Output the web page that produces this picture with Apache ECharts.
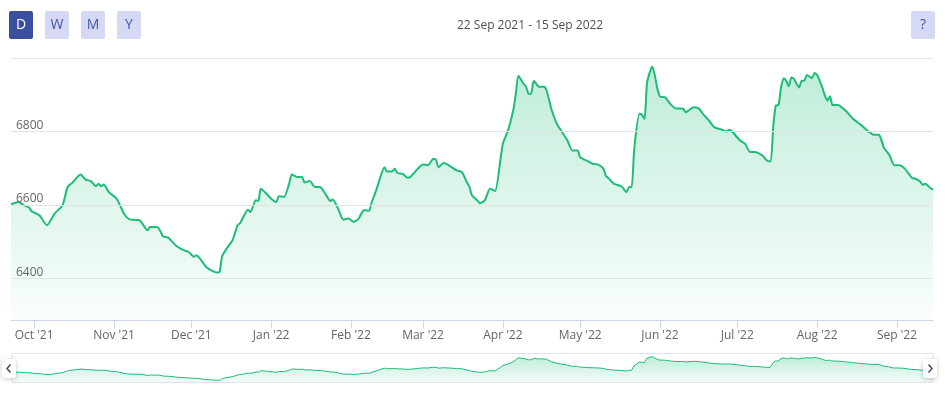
<!DOCTYPE html>
<html>
<head>
<meta charset="utf-8">
<title>Price</title>
<script src="https://cdn.jsdelivr.net/npm/echarts@6/dist/echarts.min.js"></script>
<style>
html, body { margin: 0; padding: 0; background: #fff; }
#container1 { width: 945px; height: 398px; }
</style>
</head>
<body>
<div id="container1"></div>
<script>
// daily closes, 22 Sep 2021 - 15 Sep 2022
var dates = [
  '2021-09-22','2021-09-25','2021-09-27','2021-09-29','2021-09-30',
  '2021-10-03','2021-10-06','2021-10-09','2021-10-12','2021-10-14','2021-10-16','2021-10-19','2021-10-21','2021-10-23','2021-10-25','2021-10-26','2021-10-27','2021-10-28','2021-10-30',
  '2021-11-02','2021-11-05','2021-11-07','2021-11-11','2021-11-14','2021-11-15','2021-11-18','2021-11-20','2021-11-22','2021-11-25','2021-11-28','2021-11-30',
  '2021-12-02','2021-12-03','2021-12-07','2021-12-11','2021-12-12','2021-12-13','2021-12-15','2021-12-17','2021-12-19','2021-12-20','2021-12-23','2021-12-24','2021-12-26','2021-12-27','2021-12-28','2021-12-30',
  '2022-01-01','2022-01-03','2022-01-04','2022-01-06','2022-01-08','2022-01-09','2022-01-11','2022-01-13','2022-01-14','2022-01-16','2022-01-18','2022-01-20','2022-01-22','2022-01-24','2022-01-25','2022-01-27','2022-01-29','2022-01-31',
  '2022-02-02','2022-02-04','2022-02-06','2022-02-08','2022-02-09','2022-02-11','2022-02-12','2022-02-14','2022-02-15','2022-02-17','2022-02-18','2022-02-19','2022-02-21','2022-02-23','2022-02-24','2022-02-27',
  '2022-03-01','2022-03-03','2022-03-05','2022-03-06','2022-03-07','2022-03-09','2022-03-11','2022-03-14','2022-03-16','2022-03-18','2022-03-19','2022-03-20','2022-03-22','2022-03-23','2022-03-25','2022-03-27','2022-03-29','2022-03-31',
  '2022-04-01','2022-04-03','2022-04-05','2022-04-06','2022-04-07','2022-04-09','2022-04-10','2022-04-11','2022-04-12','2022-04-13','2022-04-15','2022-04-17','2022-04-18','2022-04-20','2022-04-22','2022-04-24','2022-04-26','2022-04-28','2022-04-30',
  '2022-05-01','2022-05-04','2022-05-06','2022-05-08','2022-05-10','2022-05-11','2022-05-12','2022-05-14','2022-05-17','2022-05-19','2022-05-20','2022-05-21','2022-05-22','2022-05-24','2022-05-25','2022-05-26','2022-05-27','2022-05-29','2022-05-30','2022-05-31',
  '2022-06-01','2022-06-03','2022-06-05','2022-06-07','2022-06-10','2022-06-11','2022-06-12','2022-06-14','2022-06-16','2022-06-18','2022-06-20','2022-06-22','2022-06-25','2022-06-27','2022-06-28','2022-06-29',
  '2022-07-02','2022-07-04','2022-07-06','2022-07-08','2022-07-10','2022-07-11','2022-07-13','2022-07-14','2022-07-15','2022-07-16','2022-07-17','2022-07-18','2022-07-19','2022-07-20','2022-07-21','2022-07-22','2022-07-23','2022-07-24','2022-07-25','2022-07-26','2022-07-27','2022-07-28','2022-07-30','2022-07-31',
  '2022-08-01','2022-08-03','2022-08-04','2022-08-05','2022-08-06','2022-08-07','2022-08-09','2022-08-12','2022-08-15','2022-08-18','2022-08-21','2022-08-23','2022-08-25','2022-08-26','2022-08-27','2022-08-29','2022-08-31',
  '2022-09-02','2022-09-04','2022-09-07','2022-09-08','2022-09-10','2022-09-11','2022-09-12','2022-09-14','2022-09-15'
];
var prices = [
  6602,6608,6599,6593,6583,
  6572,6545,6577,6599,6649,6662,6683,6669,6665,6651,6658,6651,6656,6635,
  6617,6575,6561,6558,6531,6540,6539,6515,6511,6490,6477,6472,
  6459,6463,6430,6416,6418,6461,6484,6504,6545,6551,6587,6581,6613,6611,6644,6632,
  6617,6608,6624,6622,6658,6683,6676,6676,6661,6665,6649,6649,6631,6611,6615,6590,6560,6563,
  6554,6563,6586,6584,6606,6644,6667,6703,6691,6691,6699,6687,6685,6674,6676,6699,
  6710,6709,6726,6723,6703,6714,6708,6694,6690,6662,6649,6626,6613,6605,6613,6644,6638,6721,
  6767,6803,6857,6902,6952,6930,6922,6902,6904,6938,6922,6922,6911,6857,6820,6798,6776,6748,6748,
  6730,6719,6712,6710,6699,6679,6673,6658,6651,6635,6649,6649,6753,6848,6845,6834,6934,6977,6952,6916,
  6895,6893,6875,6863,6862,6852,6857,6866,6863,6845,6830,6812,6805,6800,6805,6800,
  6776,6767,6744,6744,6738,6733,6719,6719,6816,6871,6872,6920,6945,6938,6923,6947,6943,6930,6920,6938,6938,6954,6945,6959,
  6954,6920,6898,6884,6896,6872,6872,6857,6834,6818,6800,6791,6791,6776,6755,6737,6708,
  6708,6699,6673,6672,6664,6655,6658,6646,6642
];
var yTicks = [6400, 6600, 6800, 7000];
var monthTicks = ['2021-10-01','2021-11-01','2021-12-01','2022-01-01','2022-02-01','2022-03-01',
  '2022-04-01','2022-05-01','2022-06-01','2022-07-01','2022-08-01','2022-09-01'];
var monthNames = ['Jan','Feb','Mar','Apr','May','Jun','Jul','Aug','Sep','Oct','Nov','Dec'];
var rangeButtons = ['D', 'W', 'M', 'Y'];
var rangeText = '22 Sep 2021 - 15 Sep 2022';

function toTime(s) {
  var p = s.split('-');
  return new Date(+p[0], +p[1] - 1, +p[2]).getTime();
}

var FONT = 'Open Sans';
var green = '#1dbd78';
var tStart = toTime(dates[0]), tEnd = toTime(dates[dates.length - 1]);
var seriesData = dates.map(function (d, i) { return [toTime(d), prices[i]]; });

function areaFill(a0, a1) {
  return new echarts.graphic.LinearGradient(0, 0, 0, 1, [
    {offset: 0, color: 'rgba(29,189,120,' + a0 + ')'},
    {offset: 1, color: 'rgba(29,189,120,' + a1 + ')'}
  ]);
}

// range buttons + help button
var graphics = [];
rangeButtons.forEach(function (b, i) {
  var active = i === 0;
  graphics.push({
    type: 'group', x: 9 + i * 36, y: 11,
    children: [
      {type: 'rect', shape: {x: 0, y: 0, width: 24, height: 28, r: 2},
        style: {fill: active ? '#3b4fa0' : '#d5d9f6'}},
      {type: 'text', x: 12, y: 14,
        style: {text: b, fill: active ? '#fff' : '#4656a3', font: '14px "' + FONT + '"',
          align: 'center', verticalAlign: 'middle'}}
    ]
  });
});
graphics.push({
  type: 'group', x: 911, y: 11,
  children: [
    {type: 'rect', shape: {x: 0, y: 0, width: 24, height: 28, r: 2}, style: {fill: '#d5d9f6'}},
    {type: 'text', x: 12, y: 14,
      style: {text: '?', fill: '#4656a3', font: '14px "' + FONT + '"', align: 'center', verticalAlign: 'middle'}}
  ]
});
// navigator handles
[[2, 'l'], [923, 'r']].forEach(function (h) {
  var pts = h[1] === 'l' ? [[8.5, 5.5], [5, 9.5], [8.5, 13.5]] : [[5.5, 5.5], [9, 9.5], [5.5, 13.5]];
  graphics.push({
    type: 'group', x: h[0], y: 359, z: 100,
    children: [
      {type: 'rect', z: 100, shape: {x: 0, y: 0, width: 14, height: 19, r: 3},
        style: {fill: '#fff', shadowBlur: 5, shadowColor: 'rgba(0,0,0,0.22)', shadowOffsetY: 1}},
      {type: 'polyline', z: 101, shape: {points: pts}, style: {stroke: '#3a4478', lineWidth: 1.4, fill: null}}
    ]
  });
});

var myChart = echarts.init(document.getElementById('container1'));
var option = {
  animation: false,
  textStyle: {fontFamily: FONT},
  title: {
    text: rangeText, left: 452, top: 15,
    textStyle: {fontSize: 12, fontWeight: 'normal', color: '#505050', fontFamily: FONT}
  },
  graphic: graphics,
  grid: [
    {left: 11, right: 12, top: 58, bottom: 78},
    // navigator mini chart
    {left: 12, right: 13, top: 354, height: 28}
  ],
  xAxis: [{
    type: 'value', min: tStart, max: tEnd,
    axisLine: {lineStyle: {color: '#ccd6eb', width: 1}},
    axisTick: {show: true, length: 8, lineStyle: {color: '#ccd6eb'}, customValues: monthTicks.map(toTime)},
    axisLabel: {
      customValues: monthTicks.map(toTime),
      color: '#666', fontSize: 12, margin: 10, fontFamily: FONT,
      formatter: function (v) {
        var d = new Date(v);
        return monthNames[d.getMonth()] + " '" + String(d.getFullYear()).slice(2);
      }
    },
    splitLine: {show: false}
  }, {
    type: 'value', gridIndex: 1, min: tStart, max: tEnd, show: false
  }],
  yAxis: [{
    type: 'value', min: 6287, max: 7000,
    axisLine: {show: false}, axisTick: {show: false}, axisLabel: {show: false},
    splitLine: {show: false}
  }, {
    type: 'value', gridIndex: 1, min: 6375, max: 7040, show: false
  }],
  dataZoom: [{
    type: 'slider', xAxisIndex: 0, start: 0, end: 100,
    left: 11, right: 12, top: 353, height: 30,
    backgroundColor: 'rgba(0,0,0,0)', borderColor: '#dfe2f4', borderRadius: 0,
    fillerColor: 'rgba(0,0,0,0)', showDetail: false, brushSelect: false, showDataShadow: false,
    moveHandleSize: 0, handleSize: 0, handleStyle: {opacity: 0}
  }],
  series: [{
    type: 'line',
    data: seriesData,
    symbol: 'none', smooth: 0.2,
    lineStyle: {color: green, width: 2},
    itemStyle: {color: green},
    areaStyle: {color: areaFill(0.4, 0.03)},
    markLine: {
      silent: true, symbol: 'none', animation: false,
      lineStyle: {color: '#e3e3e3', width: 1, type: 'solid'},
      emphasis: {disabled: true},
      label: {
        position: 'insideStartTop', color: '#666', fontSize: 12, fontFamily: FONT,
        distance: [5, 0], lineHeight: 12,
        formatter: function (p) { return p.value === 7000 ? '' : String(p.value); }
      },
      data: yTicks.map(function (v) { return {yAxis: v}; })
    }
  }, {
    type: 'line', xAxisIndex: 1, yAxisIndex: 1,
    data: seriesData, symbol: 'none', silent: true,
    lineStyle: {color: green, width: 1},
    areaStyle: {color: areaFill(0.4, 0.08)}
  }]
};
myChart.setOption(option, true);
</script>
</body>
</html>
